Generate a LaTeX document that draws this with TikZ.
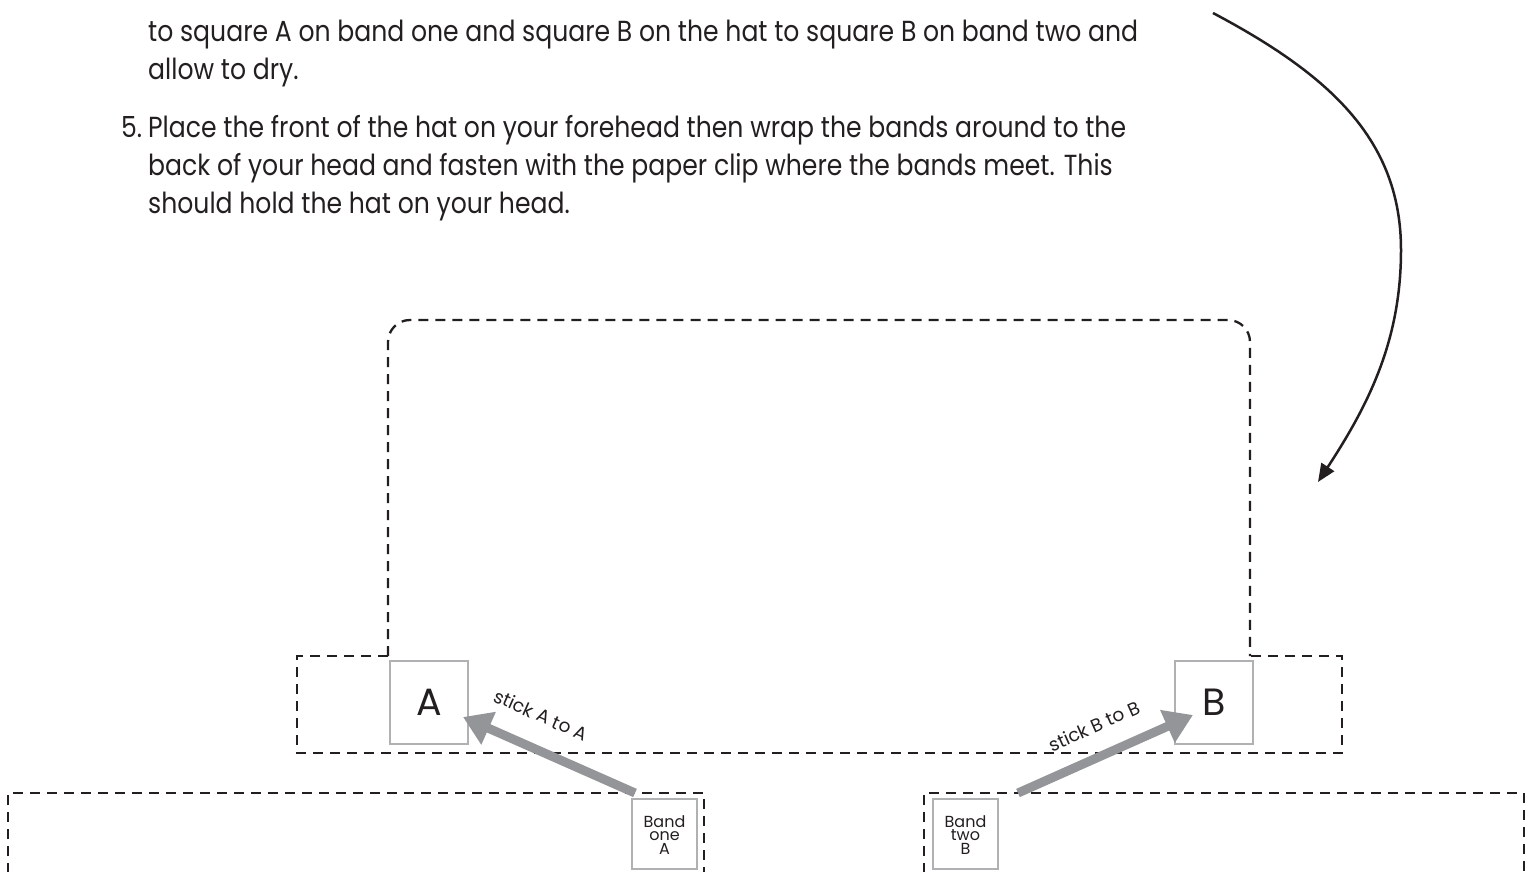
\documentclass[tikz,border=0pt]{standalone}
\usepackage{fontspec}
\setmainfont{Poppins}
\usepackage{graphicx}
\usetikzlibrary{arrows.meta}
\definecolor{ink}{HTML}{231F20}
\definecolor{boxgray}{HTML}{B0B1B3}
\definecolor{arrowgray}{HTML}{939598}
\newsavebox\measbox
\tikzset{
  cutline/.style={draw=ink, line width=2.3pt, dash pattern=on 10pt off 7pt},
  bodytext/.style={anchor=base west, inner sep=0pt, text=ink, font=\fontsize{29}{34}\selectfont},
  hatsquare/.style={draw=boxgray, line width=1.2pt, minimum width=78pt, minimum height=83pt, inner sep=0pt, text=ink, font=\fontsize{38}{40}\selectfont},
  bandsquare/.style={draw=boxgray, line width=1.2pt, minimum width=65pt, minimum height=70pt, inner sep=0pt},
  bandtext/.style={align=center, inner sep=0pt, text=ink, font=\fontsize{16}{13.5}\selectfont},
  sticktext/.style={inner sep=0pt, text=ink, font=\fontsize{18.5}{20}\selectfont},
  grayarrow/.style={draw=arrowgray, line width=9pt, -{Triangle[length=28pt,width=34pt]}},
  curvearrow/.style={draw=ink, line width=2.5pt, -{Triangle[length=18pt,width=15pt]}}
}
\begin{document}
\sbox\measbox{\fontsize{29}{34}\selectfont to square A on band one and square B on the hat to square B on band two and}%
\pgfmathsetmacro\bodyscale{990/\the\wd\measbox}%
\begin{tikzpicture}[x=1pt,y=-1pt]
\useasboundingbox (0,0) rectangle (1535,872);
\clip (0,0) rectangle (1535,872);
% instruction text
\node[bodytext] (l1) at (148,42) {\scalebox{\bodyscale}[1]{to square A on band one and square B on the hat to square B on band two and}};
\node[bodytext] (l2) at (148,80) {\scalebox{\bodyscale}[1]{allow to dry.}};
\node[bodytext] (n5) at (121,138) {\scalebox{\bodyscale}[1]{5.}};
\node[bodytext] (l3) at (148,138) {\scalebox{\bodyscale}[1]{Place the front of the hat on your forehead then wrap the bands around to the}};
\node[bodytext] (l4) at (148,176) {\scalebox{\bodyscale}[1]{back of your head and fasten with the paper clip where the bands meet. This}};
\node[bodytext] (l5) at (148,214) {\scalebox{\bodyscale}[1]{should hold the hat on your head.}};
% hat outline
\draw[cutline, rounded corners=22pt] (388,656) -- (388,320) -- (1250,320) -- (1250,656);
\draw[cutline] (388,656) -- (297,656) -- (297,753) -- (1342,753) -- (1342,656) -- (1250,656);
% bands
\draw[cutline] (8,890) -- (8,793) -- (704,793) -- (704,890);
\draw[cutline] (924,890) -- (924,793) -- (1524,793) -- (1524,890);
% squares
\node[hatsquare] (sqA) at (429,702.5) {A};
\node[hatsquare] (sqB) at (1214,702.5) {B};
\node[bandsquare] (bandA) at (664.5,834) {};
\node[bandsquare] (bandB) at (965.5,834) {};
\node[bandtext] (bandAtext) at (664.5,835) {Band\\one\\A};
\node[bandtext] (bandBtext) at (965.5,835) {Band\\two\\B};
% gray arrows
\coordinate (aS) at (635,793);
\coordinate (aT) at (463,717);
\coordinate (bS) at (1018,793);
\coordinate (bT) at (1193,715);
\draw[grayarrow] (aS) -- (aT);
\draw[grayarrow] (bS) -- (bT);
\node[sticktext, rotate=-24] (stickA) at (541,715) {stick A to A};
\node[sticktext, rotate=24] (stickB) at (1094,726) {stick B to B};
% curved arrow
\coordinate (cS) at (1213,13);
\coordinate (cM) at (1401,250);
\coordinate (cE) at (1318,482);
\draw[curvearrow] (cS) .. controls (1330,75) and (1401,140) .. (cM) .. controls (1401,340) and (1369,404) .. (cE);
\end{tikzpicture}
\end{document}
